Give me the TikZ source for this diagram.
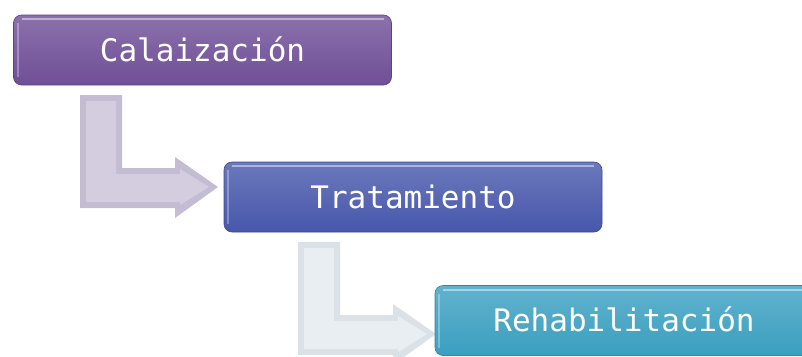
\documentclass[tikz,border=0pt]{standalone}
\usepackage{fontspec}
\newfontfamily\stagefont{DejaVu Sans Mono}
\definecolor{CalClr}{HTML}{6F4E97}
\definecolor{TraClr}{HTML}{4757AB}
\definecolor{RehClr}{HTML}{3A9FC0}
\definecolor{ArrEdgeA}{HTML}{C4BCD3}
\definecolor{ArrFaceA}{HTML}{D3CDDF}
\definecolor{ArrEdgeB}{HTML}{DAE2E7}
\definecolor{ArrFaceB}{HTML}{E8EEF1}

\tikzset{
  stagebox/.style={rounded corners=8pt, minimum width=378pt, minimum height=70pt,
    inner sep=0pt, text height=22pt, text depth=0pt, text=white,
    font=\stagefont\fontsize{31}{31}\selectfont,
    top color=#1!80!white, bottom color=#1, draw=#1!85!black, line width=.6pt,
    path picture={
      \draw[white,opacity=.45,line width=2pt]
        ([xshift=8pt,yshift=-4pt]path picture bounding box.north west) --
        ([xshift=-8pt,yshift=-4pt]path picture bounding box.north east);
      \draw[white,opacity=.3,line width=2pt]
        ([xshift=4pt,yshift=-8pt]path picture bounding box.north west) --
        ([xshift=4pt,yshift=8pt]path picture bounding box.south west);
    }},
}

\begin{document}
\begin{tikzpicture}[x=1pt,y=-1pt]
\clip (0,0) rectangle (802,356);

% bent arrows
\foreach \ax/\ay/\edge/\face in {80/95/ArrEdgeA/ArrFaceA, 298/242/ArrEdgeB/ArrFaceB}{
  \begin{scope}[shift={(\ax,\ay)}]
    \fill[\edge] (0,0) -- (42,0) -- (42,73) -- (95,73) -- (95,62) -- (138,92)
      -- (95,123) -- (95,113) -- (0,113) -- cycle;
    \fill[\face] (6,6) -- (36,6) -- (36,79) -- (100,79) -- (100,74) -- (129,92)
      -- (100,110) -- (100,107) -- (6,107) -- cycle;
  \end{scope}
}

% stages
\node[stagebox=CalClr] (cal) at (202.5,50) {Calaización};
\node[stagebox=TraClr] (tra) at (413,197) {Tratamiento};
\node[stagebox=RehClr] (reh) at (624,320.5) {Rehabilitación};

\end{tikzpicture}
\end{document}
